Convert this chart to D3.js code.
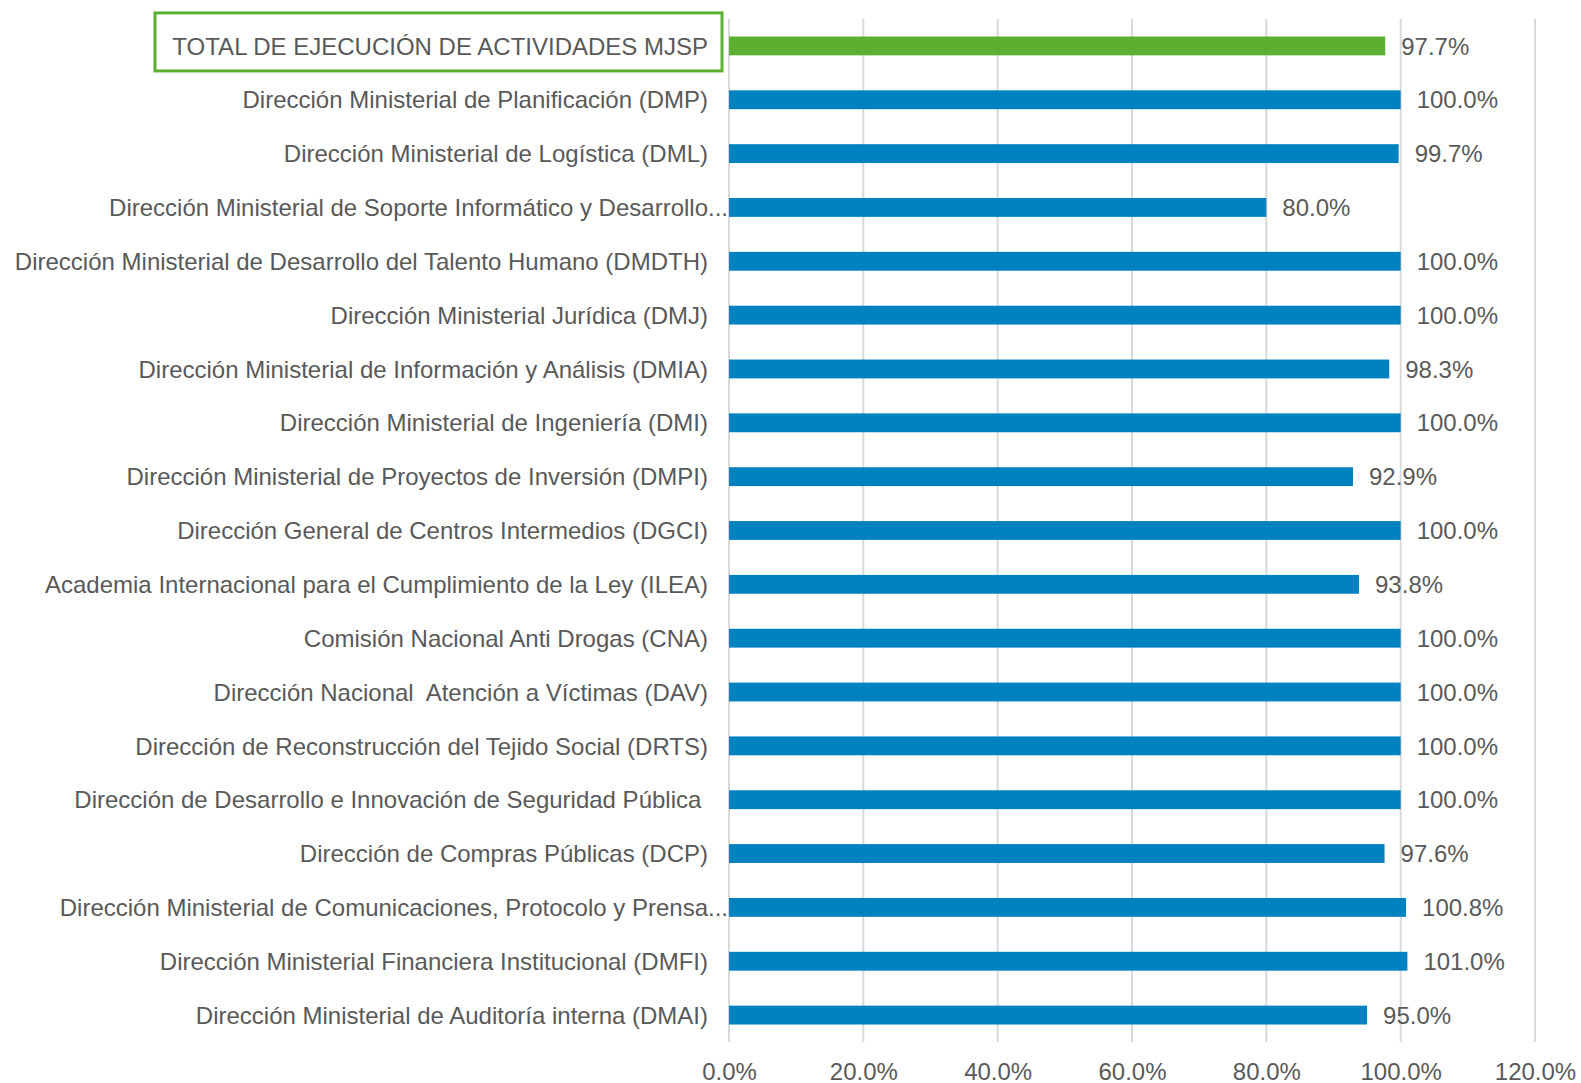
<!DOCTYPE html>
<html>
<head>
<meta charset="utf-8">
<script src="https://cdn.jsdelivr.net/npm/d3@7"></script>
<style>
  html, body { margin: 0; padding: 0; background: #fff; }
  svg { display: block; font-family: "Liberation Sans", Arial, sans-serif; }
</style>
</head>
<body>
<svg id="chart" width="1581" height="1083"></svg>
<script>
const categories = [
  "TOTAL DE EJECUCIÓN DE ACTIVIDADES MJSP",
  "Dirección Ministerial de Planificación (DMP)",
  "Dirección Ministerial de Logística (DML)",
  "Dirección Ministerial de Soporte Informático y Desarrollo",
  "Dirección Ministerial de Desarrollo del Talento Humano (DMDTH)",
  "Dirección Ministerial Jurídica (DMJ)",
  "Dirección Ministerial de Información y Análisis (DMIA)",
  "Dirección Ministerial de Ingeniería (DMI)",
  "Dirección Ministerial de Proyectos de Inversión (DMPI)",
  "Dirección General de Centros Intermedios (DGCI)",
  "Academia Internacional para el Cumplimiento de la Ley (ILEA)",
  "Comisión Nacional Anti Drogas (CNA)",
  "Dirección Nacional  Atención a Víctimas (DAV)",
  "Dirección de Reconstrucción del Tejido Social (DRTS)",
  "Dirección de Desarrollo e Innovación de Seguridad Pública ",
  "Dirección de Compras Públicas (DCP)",
  "Dirección Ministerial de Comunicaciones, Protocolo y Prensa",
  "Dirección Ministerial Financiera Institucional (DMFI)",
  "Dirección Ministerial de Auditoría interna (DMAI)"
];
const values = [97.7, 100.0, 99.7, 80.0, 100.0, 100.0, 98.3, 100.0, 92.9, 100.0,
                93.8, 100.0, 100.0, 100.0, 100.0, 97.6, 100.8, 101.0, 95.0];
// labels cut off by the chart with an ellipsis
const truncated = [
  "Dirección Ministerial de Soporte Informático y Desarrollo",
  "Dirección Ministerial de Comunicaciones, Protocolo y Prensa"
];
const xTicks = [0, 20, 40, 60, 80, 100, 120];

const data = categories.map((c, i) => ({ name: c, value: values[i], total: i === 0 }));

const svg = d3.select("#chart");
const margin = { top: 19, right: 46, bottom: 41, left: 729 };
const width = 1581;
const height = 1083;
const fontSize = 24;

const x = d3.scaleLinear()
  .domain([0, 120])
  .range([margin.left, width - margin.right]);

const y = d3.scaleBand()
  .domain(categories)
  .range([margin.top, height - margin.bottom])
  .paddingInner(0.65)
  .paddingOuter(0.325);

const textColor = "#595959";

// gridlines
svg.append("g")
  .selectAll("line")
  .data(xTicks)
  .join("line")
  .attr("x1", d => x(d))
  .attr("x2", d => x(d))
  .attr("y1", margin.top)
  .attr("y2", height - margin.bottom)
  .attr("stroke", "#d9d9d9")
  .attr("stroke-width", 2);

// x axis tick labels
const xAxis = d3.axisBottom(x)
  .tickValues(xTicks)
  .tickFormat(d => d.toFixed(1) + "%")
  .tickSize(0)
  .tickPadding(0);

const gx = svg.append("g")
  .attr("transform", `translate(0, ${height - 20})`)
  .call(xAxis);
gx.select(".domain").remove();
gx.selectAll("text")
  .attr("font-size", fontSize)
  .attr("fill", textColor)
  .attr("font-family", "Liberation Sans, Arial, sans-serif");

// bars
svg.append("g")
  .selectAll("rect")
  .data(data)
  .join("rect")
  .attr("x", x(0))
  .attr("y", d => y(d.name))
  .attr("width", d => x(d.value) - x(0))
  .attr("height", y.bandwidth())
  .attr("fill", d => d.total ? "#5BB030" : "#0081C0");

// value labels
svg.append("g")
  .selectAll("text")
  .data(data)
  .join("text")
  .attr("x", d => x(d.value) + 16)
  .attr("y", d => y(d.name) + y.bandwidth() / 2)
  .attr("dy", "0.36em")
  .attr("font-size", fontSize)
  .attr("fill", textColor)
  .text(d => d.value.toFixed(1) + "%");

// category labels
const labelX = margin.left - 21;
svg.append("g")
  .selectAll("text")
  .data(data)
  .join("text")
  .attr("x", labelX)
  .attr("y", d => y(d.name) + y.bandwidth() / 2)
  .attr("dy", "0.36em")
  .attr("text-anchor", "end")
  .attr("font-size", fontSize)
  .attr("fill", textColor)
  .style("white-space", "pre")
  .text(d => d.name);

svg.append("g")
  .selectAll("text")
  .data(data.filter(d => truncated.includes(d.name)))
  .join("text")
  .attr("x", labelX)
  .attr("y", d => y(d.name) + y.bandwidth() / 2)
  .attr("dy", "0.36em")
  .attr("font-size", fontSize)
  .attr("fill", textColor)
  .text("...");

// box around the total label
const totalY = y(categories[0]) + y.bandwidth() / 2;
svg.append("rect")
  .attr("x", 155)
  .attr("y", totalY - 33)
  .attr("width", 567)
  .attr("height", 58)
  .attr("fill", "none")
  .attr("stroke", "#5BB030")
  .attr("stroke-width", 3);
</script>
</body>
</html>
